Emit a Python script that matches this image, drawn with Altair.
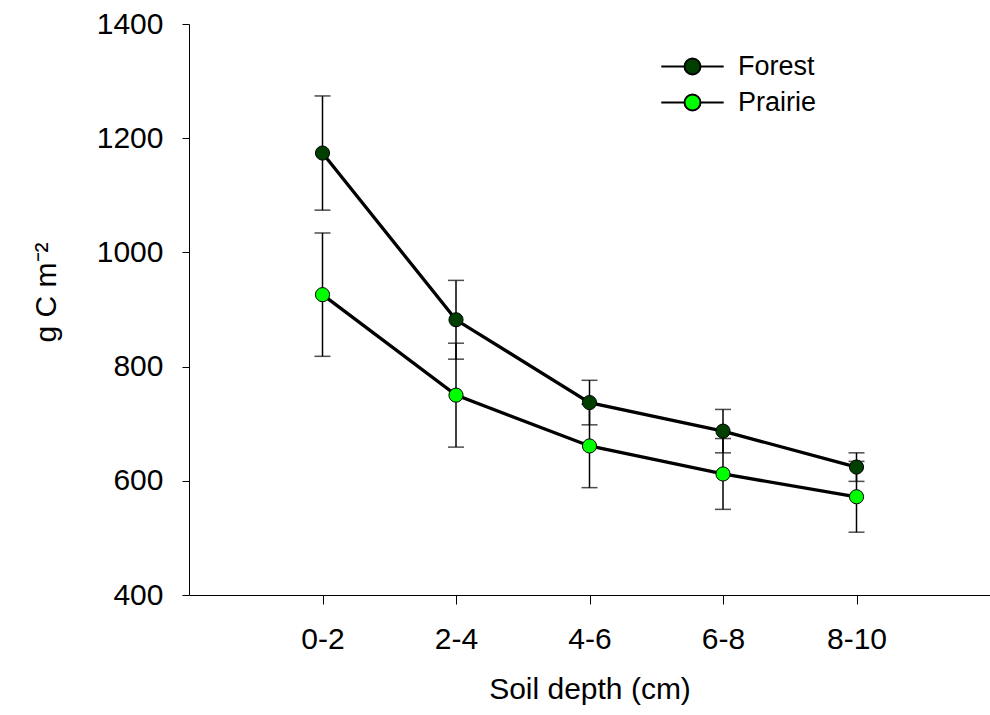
import altair as alt
import pandas as pd

depths = ["0-2", "2-4", "4-6", "6-8", "8-10"]
forest_mean = [1174, 882, 737, 687, 624]
forest_se = [100, 69, 39, 38, 25]
prairie_mean = [926, 750, 661, 612, 572]
prairie_se = [108, 91, 73, 62, 62]
groups = ["Forest", "Prairie"]
colors = ["#003f00", "#00ff00"]
y_ticks = [400, 600, 800, 1000, 1200, 1400]

rows = []
for g, means, ses in [("Forest", forest_mean, forest_se), ("Prairie", prairie_mean, prairie_se)]:
    for i, (d, m, s) in enumerate(zip(depths, means, ses)):
        rows.append(dict(group=g, depth=d, pos=i, mean=m, lo=m - s, hi=m + s))
df = pd.DataFrame(rows)

FONT = "Liberation Sans"
label_expr = "[" + ",".join(f"'{d}'" for d in depths) + "][datum.value]"

xenc = alt.X(
    "pos:Q",
    scale=alt.Scale(domain=[-1, 5], nice=False, zero=False),
    axis=alt.Axis(
        values=list(range(len(depths))), labelExpr=label_expr, title="Soil depth (cm)",
        grid=False, tickSize=9, tickColor="black", domainColor="black",
        labelFont=FONT, labelFontSize=30, labelColor="black", labelPadding=20,
        titleFont=FONT, titleFontSize=30, titleFontWeight="normal", titleColor="black",
        titlePadding=20,
    ),
)
yscale = alt.Scale(domain=[400, 1400], nice=False, zero=False)
yaxis = alt.Axis(
    values=y_ticks, format="d", title="g C m\u207b\u00b2", grid=False, tickSize=7,
    tickColor="black", domainColor="black",
    labelFont=FONT, labelFontSize=30, labelColor="black", labelPadding=19,
    titleFont=FONT, titleFontSize=30, titleFontWeight="normal", titleColor="black",
    titleX=-134, titleY=268, titleAngle=270, titleAlign="center", titleBaseline="alphabetic",
)

base = alt.Chart(df)

err = base.mark_rule(color="black", strokeWidth=1.5).encode(
    x=xenc, y=alt.Y("lo:Q", scale=yscale, axis=yaxis), y2="hi:Q"
)
cap_lo = base.mark_tick(orient="horizontal", size=16, thickness=1.5, color="black").encode(
    x="pos:Q", y="lo:Q"
)
cap_hi = base.mark_tick(orient="horizontal", size=16, thickness=1.5, color="black").encode(
    x="pos:Q", y="hi:Q"
)
line = base.mark_line(color="black", strokeWidth=3.3).encode(
    x="pos:Q", y="mean:Q", detail="group:N"
)
sym = "M-3.9,0L-1,0M1,0L3.9,0M1,0A1,1,0,1,1,-1,0A1,1,0,1,1,1,0Z"
pts = base.mark_point(filled=True, size=201, stroke="black", strokeWidth=1, opacity=1).encode(
    x="pos:Q",
    y="mean:Q",
    fill=alt.Fill(
        "group:N",
        scale=alt.Scale(domain=groups, range=colors),
        legend=alt.Legend(
            title=None, orient="none", legendX=490, legendY=29, padding=0,
            symbolType=sym, symbolSize=256, symbolStrokeColor="black",
            symbolStrokeWidth=2, symbolOpacity=1,
            labelFont=FONT, labelFontSize=27, labelColor="black", labelOffset=32,
            rowPadding=8,
        ),
    ),
)

chart = (
    alt.layer(err, cap_lo, cap_hi, line, pts)
    .properties(
        width=801, height=571,
        autosize=alt.AutoSizeParams(type="none"),
        padding={"left": 189, "top": 24, "right": 0, "bottom": 120},
        background="white",
    )
    .configure_view(stroke=None)
)

chart.save("out.html", embed_options={"renderer": "svg", "actions": False})
